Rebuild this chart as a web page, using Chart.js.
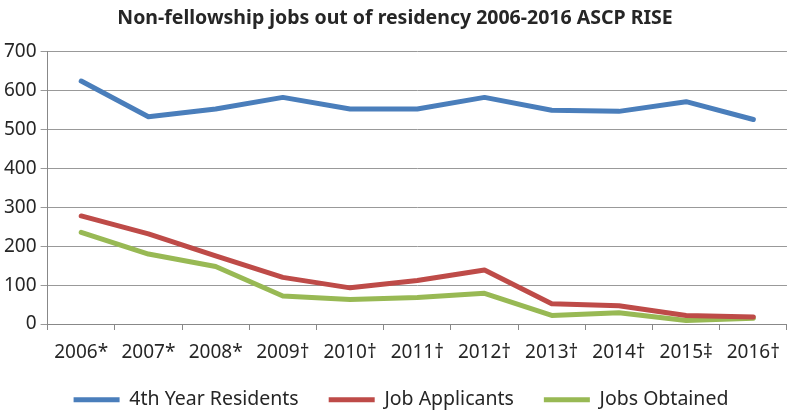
<!DOCTYPE html>
<html>
<head>
<meta charset="utf-8">
<script src="https://cdn.jsdelivr.net/npm/chart.js@4/dist/chart.umd.min.js"></script>
<style>
html,body{margin:0;padding:0;background:#fff;}
#wrap{width:791px;height:412px;position:relative;}
</style>
</head>
<body>
<div id="wrap"><canvas id="c" width="791" height="412"></canvas></div>
<script>
const categories = ["2006*","2007*","2008*","2009\u2020","2010\u2020","2011\u2020","2012\u2020","2013\u2020","2014\u2020","2015\u2021","2016\u2020"];
const residents = [625, 533, 553, 583, 553, 553, 583, 550, 547, 572, 526];
const applicants = [278, 232, 175, 120, 93, 112, 139, 52, 47, 22, 18];
const obtained = [236, 180, 148, 72, 63, 68, 79, 22, 29, 9, 15];
const yTicks = [0, 100, 200, 300, 400, 500, 600, 700];

const FONT = "'Noto Sans', 'Open Sans', sans-serif";
const mk = (label, data, color) => ({
  label, data, borderColor: color, backgroundColor: color,
  borderWidth: 5, pointRadius: 0, tension: 0, fill: false,
  borderCapStyle: 'round', borderJoinStyle: 'round'
});

// Place the legend row like the Excel original (wide item gaps, row near the bottom)
const legendPlace = {
  id: 'legendPlace',
  afterLayout(chart) {
    const l = chart.legend;
    l.top = 360; l.height = 52; l.bottom = l.top + l.height;
    l.left += 6; l.right += 6;
  }
};

new Chart(document.getElementById('c'), {
  type: 'line',
  data: {
    labels: categories,
    datasets: [
      mk('4th Year Residents', residents, '#4A7EBB'),
      mk('Job Applicants', applicants, '#BE4B48'),
      mk('Jobs Obtained', obtained, '#98B954')
    ]
  },
  options: {
    responsive: false,
    animation: false,
    devicePixelRatio: 1,
    layout: { padding: { left: 0, right: 1, top: 0, bottom: 0 } },
    plugins: {
      title: {
        display: true,
        text: 'Non-fellowship jobs out of residency 2006-2016 ASCP RISE',
        color: '#262626',
        font: { family: FONT, size: 19.5, weight: 'bold' },
        padding: { top: 7, bottom: 21.5 }
      },
      legend: {
        position: 'bottom',
        maxHeight: 37.2,
        labels: {
          color: '#262626',
          font: { family: FONT, size: 19.5 },
          boxWidth: 46,
          boxHeight: 5,
          padding: 30,
          generateLabels: (chart) => Chart.defaults.plugins.legend.labels.generateLabels(chart).map(l => Object.assign(l, { lineWidth: 0 }))
        }
      },
      tooltip: { enabled: false }
    },
    scales: {
      x: {
        offset: true,
        grid: { offset: true, drawOnChartArea: false, tickLength: 6, color: '#888', lineWidth: 1 },
        border: { color: '#888', width: 1 },
        ticks: { color: '#262626', font: { family: FONT, size: 19 }, padding: 11, maxRotation: 0, autoSkip: false }
      },
      y: {
        min: 0, max: 700,
        afterBuildTicks: (s) => { s.ticks = yTicks.map(v => ({ value: v })); },
        grid: { color: '#999', lineWidth: 1, tickLength: 7 },
        border: { color: '#888', width: 1 },
        ticks: { color: '#262626', font: { family: FONT, size: 19 }, padding: 4 }
      }
    }
  },
  plugins: [legendPlace]
});
</script>
</body>
</html>
